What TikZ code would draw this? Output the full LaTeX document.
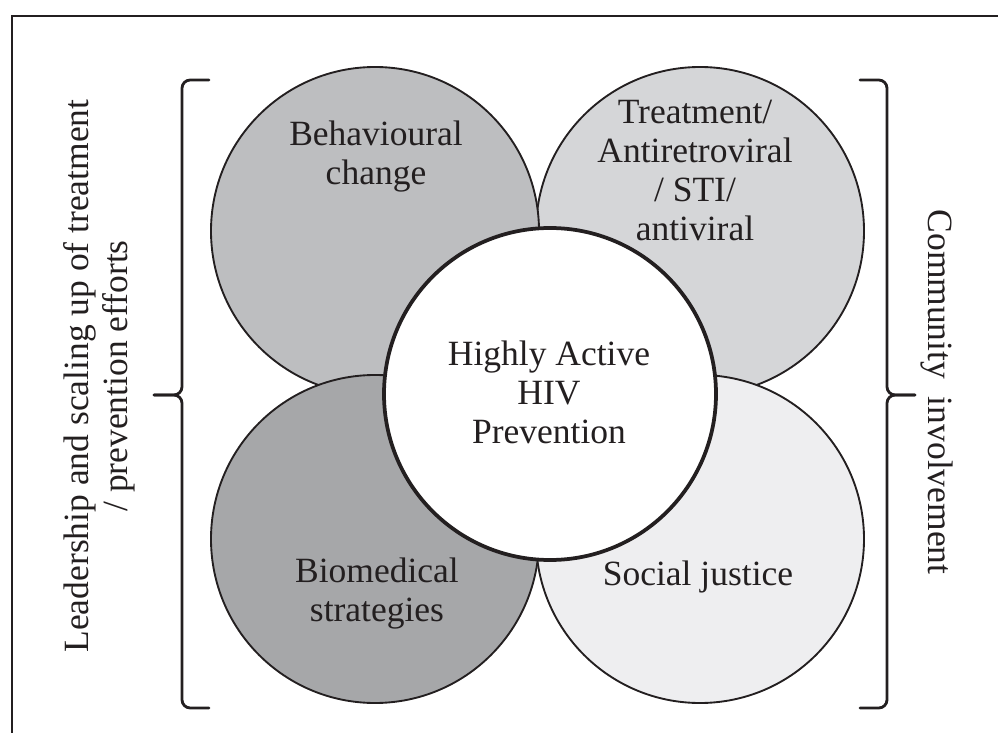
\documentclass[tikz,border=0pt]{standalone}
\usepackage{fontspec}
\setmainfont{Liberation Serif}
\usepackage{tikz}
\definecolor{behavgrey}{HTML}{BDBEC0}
\definecolor{treatgrey}{HTML}{D5D6D8}
\definecolor{biomedgrey}{HTML}{A6A7A9}
\definecolor{socialgrey}{HTML}{EEEEF0}
\definecolor{inkgrey}{HTML}{231F20}

\begin{document}
\begin{tikzpicture}[x=0.03cm, y=-0.03cm,
    petal/.style={circle, draw=inkgrey, line width=1.6pt, inner sep=0pt, minimum size=9.84cm},
    hub/.style={circle, draw=inkgrey, fill=white, line width=3.2pt, inner sep=0pt, minimum size=9.96cm},
    lbl/.style={align=center, text=inkgrey, font=\fontsize{30.3}{33.3}\selectfont, inner sep=0pt},
    brkt/.style={draw=inkgrey, line width=2.4pt, rounded corners=7pt, line cap=round}]
    \useasboundingbox (0,0) rectangle (998,733);
    % Frame
    \draw[inkgrey, line width=1.8pt] (12,733) -- (12,16) -- (998,16);
    % Outer circles
    \node[petal, fill=treatgrey] (treat) at (700,231) {};
    \node[petal, fill=behavgrey] (behav) at (375,231) {};
    \node[petal, fill=socialgrey] (social) at (700,539) {};
    \node[petal, fill=biomedgrey] (biomed) at (375,539) {};
    % Centre circle
    \node[hub] (hiv) at (550,394) {};
    % Circle texts
    \node[lbl] (behavtxt) at (376,157) {Behavioural\\change};
    \node[lbl] (treattxt) at (695,170) {Treatment/\\Antiretroviral\\/ STI/\\antiviral};
    \node[lbl] (hivtxt) at (549,392) {Highly Active\\HIV\\Prevention};
    \node[lbl] (biomedtxt) at (377,594) {Biomedical\\strategies};
    \node[lbl] (socialtxt) at (698,577) {Social justice};
    % Left bracket
    \draw[brkt] (209,80) -- (182,80) -- (182,395) -- (154,395);
    \draw[brkt] (154,395) -- (182,395) -- (182,708) -- (209,708);
    % Right bracket
    \draw[brkt] (860,80) -- (887,80) -- (887,395) -- (915,395);
    \draw[brkt] (915,395) -- (887,395) -- (887,708) -- (860,708);
    % Side labels
    \node[lbl, rotate=90] (leadtxt) at (99,376) {Leadership and scaling up of treatment\\/ prevention efforts};
    \node[lbl, rotate=-90] (commtxt) at (937,392) {Community\ \ involvement};
\end{tikzpicture}
\end{document}
